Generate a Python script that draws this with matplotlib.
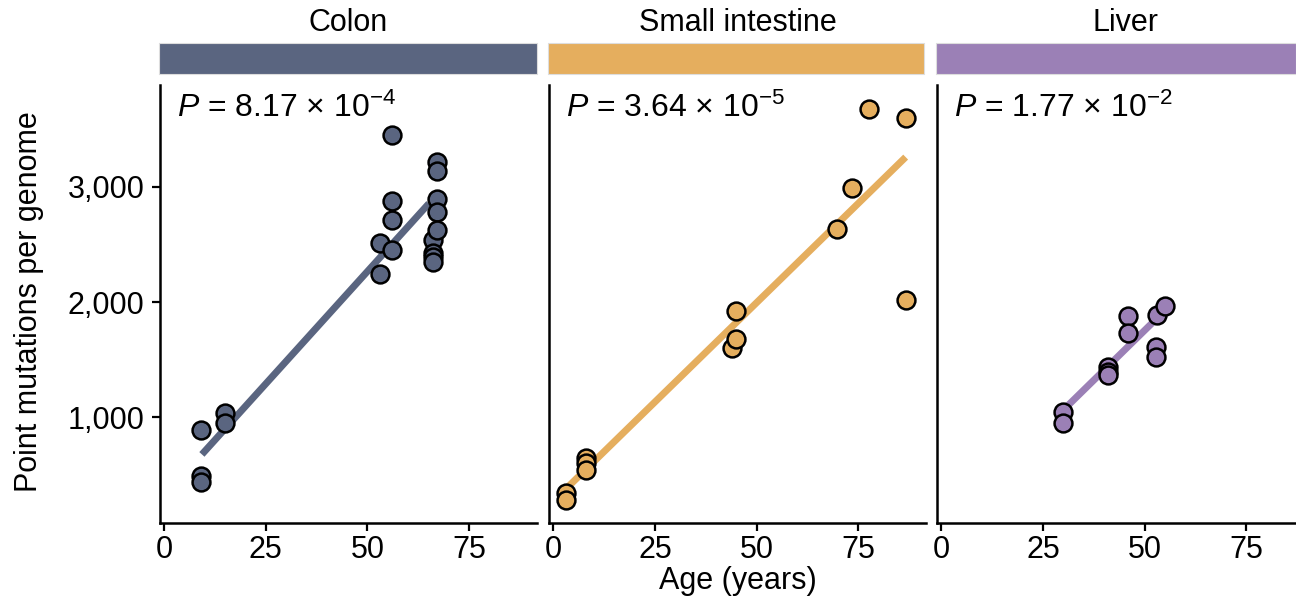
import matplotlib
matplotlib.use("Agg")
import matplotlib.pyplot as plt
from matplotlib.patches import Rectangle

plt.rcParams['font.family'] = ['Liberation Sans', 'DejaVu Sans']
plt.rcParams['mathtext.fontset'] = 'custom'
plt.rcParams['mathtext.rm'] = 'Liberation Sans'
plt.rcParams['mathtext.it'] = 'Liberation Sans:italic'

# ---- data ----
tissues = ["Colon", "Small intestine", "Liver"]
colors = ["#5A6580", "#E5AE5E", "#9B80B6"]
p_labels = [r"$P$ = 8.17 × 10$^{−4}$", r"$P$ = 3.64 × 10$^{−5}$", r"$P$ = 1.77 × 10$^{−2}$"]

colon_age = [9, 9, 9, 15, 15, 53, 53, 56, 56, 56, 56, 66, 66, 66, 66, 67, 67, 67, 67, 67]
colon_mut = [890, 490, 445, 1040, 955, 2510, 2245, 3445, 2875, 2715, 2455,
             2540, 2430, 2390, 2350, 3215, 3135, 2895, 2780, 2625]

si_age = [3.0, 3.0, 8.1, 8.1, 8.1, 43.8, 45.0, 44.8, 69.7, 73.5, 77.6, 86.6, 86.6]
si_mut = [349, 285, 652, 609, 545, 1602, 1680, 1927, 2633, 2993, 3676, 3598, 2021]

liver_age = [29.9, 29.9, 40.9, 40.9, 40.9, 46.0, 46.0, 52.8, 52.8, 53.0, 55.0]
liver_mut = [1046, 954, 1436, 1398, 1367, 1881, 1731, 1615, 1524, 1890, 1970]

# fitted line endpoints (age, mutations)
fit_age = [[9.3, 65.1], [3.4, 86.6], [30.1, 52.8]]
fit_mut = [[680, 2855], [392, 3257], [1069, 1853]]

x_ticks = [0, 25, 50, 75]
y_ticks = [1000, 2000, 3000]
y_ticklabels = ["1,000", "2,000", "3,000"]

ages = [colon_age, si_age, liver_age]
muts = [colon_mut, si_mut, liver_mut]

# ---- figure ----
W, H = 1296, 600
fig = plt.figure(figsize=(W / 100, H / 100), dpi=100)

lefts_px = [160, 549.3, 937.3]
ax_w_px = 376.7
ax_top_px, ax_bot_px = 85, 522.7
strip_top_px, strip_bot_px = 43, 74
strip_rights_px = [536.5, 924, 1296]

FS = 22
for i, t in enumerate(tissues):
    l = lefts_px[i] / W
    ax = fig.add_axes([l, 1 - ax_bot_px / H, ax_w_px / W, (ax_bot_px - ax_top_px) / H])
    ax.plot(fit_age[i], fit_mut[i], color=colors[i], lw=5, solid_capstyle='butt', zorder=2)
    ax.scatter(ages[i], muts[i], s=165, facecolor=colors[i], edgecolor='black',
               linewidth=1.8, zorder=3, clip_on=False)
    ax.set_xlim(-1, 91.6)
    ax.set_ylim(88, 3882)
    ax.set_xticks(x_ticks)
    ax.set_xticklabels([str(v) for v in x_ticks], fontsize=FS)
    for s in ['top', 'right']:
        ax.spines[s].set_visible(False)
    for s in ['left', 'bottom']:
        ax.spines[s].set_linewidth(1.8)
    ax.tick_params(axis='x', length=6, width=1.6, pad=2.5, colors='black')
    if i == 0:
        ax.set_yticks(y_ticks)
        ax.set_yticklabels(y_ticklabels, fontsize=FS)
        ax.tick_params(axis='y', length=6, width=1.6, pad=5)
    else:
        ax.set_yticks([])
    ax.text(0.044, 0.928, p_labels[i], transform=ax.transAxes, fontsize=FS + 1,
            ha='left', va='baseline')
    # strip
    sl = (lefts_px[i] - 1) / W
    sw = (strip_rights_px[i] - lefts_px[i] + 1) / W
    fig.patches.append(Rectangle((sl, 1 - strip_bot_px / H), sw, (strip_bot_px - strip_top_px) / H,
                                 transform=fig.transFigure, facecolor=colors[i],
                                 edgecolor='#DDDDDD', linewidth=0.8))
    cx = (lefts_px[i] + ax_w_px / 2) / W
    fig.text(cx, 1 - 23 / H, t, ha='center', va='center', fontsize=FS)

fig.text(737.5 / W, 1 - 581 / H, "Age (years)", ha='center', va='center', fontsize=FS)
fig.text(29.5 / W, 1 - 301.5 / H, "Point mutations per genome", ha='center', va='center',
         rotation=90, fontsize=FS)

fig.savefig("out.png", dpi=100)
